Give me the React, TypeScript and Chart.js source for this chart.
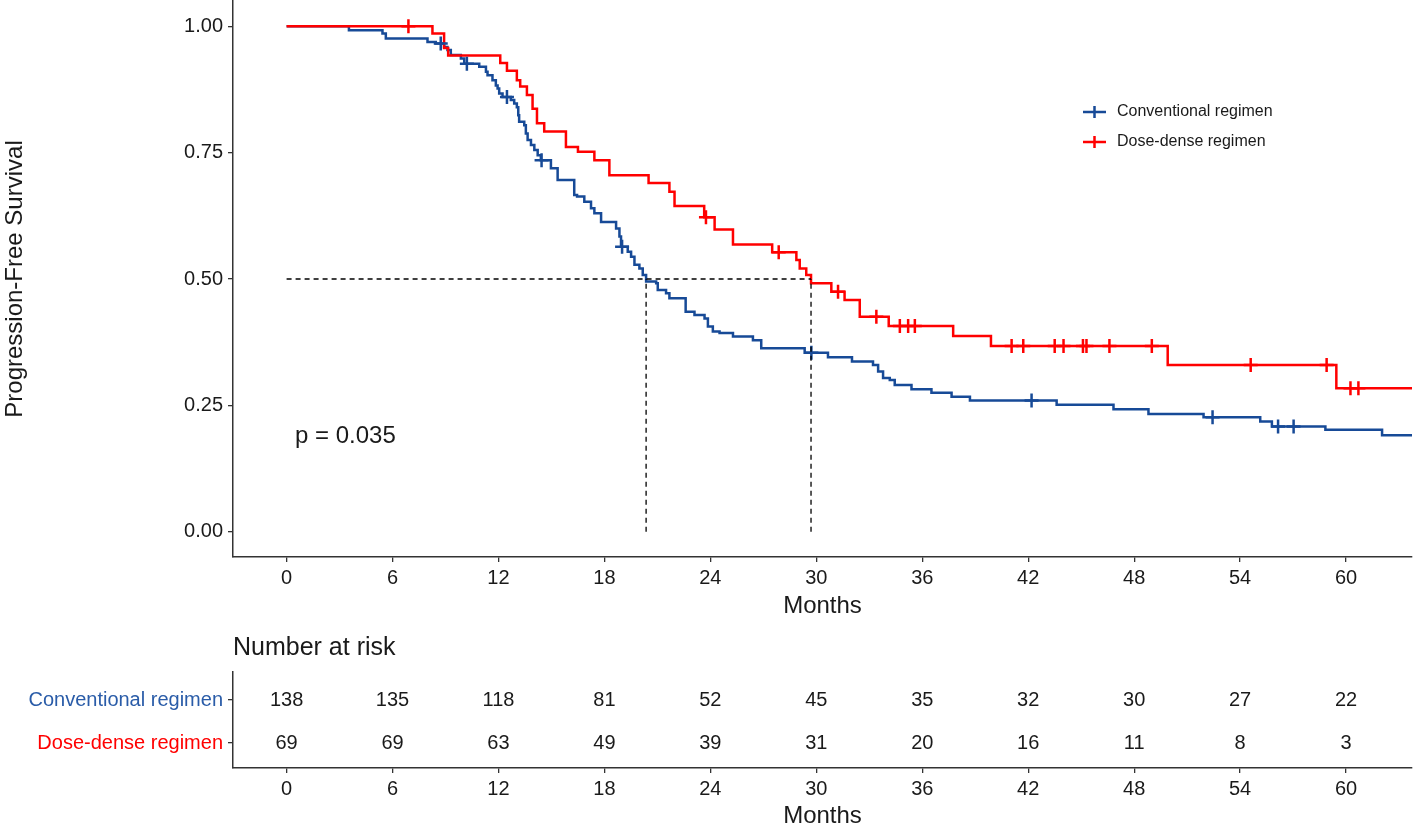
import React, { useEffect, useRef } from 'react';
import { Chart, registerables } from 'chart.js';

Chart.register(...registerables);

const FONT = '"Liberation Sans", Arial, Helvetica, sans-serif';
const BLUE = '#174A97';
const BLUE_LABEL = '#2A5CA8';
const RED = '#FF0000';
const AXIS = '#333333';
const TEXT = '#1a1a1a';

// ---- Data ----
const seriesNames = ['Conventional regimen', 'Dose-dense regimen'];
const monthTicks = [0, 6, 12, 18, 24, 30, 36, 42, 48, 54, 60];
const survTicks = [0, 0.25, 0.5, 0.75, 1];
const pValueLabel = 'p = 0.035';

const convTimes = [0, 3.53, 5.43, 5.62, 7.98, 8.45, 8.92, 9.11, 9.3, 9.87, 10.06, 10.91, 11.29, 11.38, 11.66, 11.85, 11.95, 12.04, 12.23, 12.7, 12.89, 13.04, 13.12, 13.17, 13.46, 13.55, 13.65, 13.84, 14.03, 14.22, 14.4, 14.97, 15.35, 16.29, 16.45, 16.86, 17.24, 17.43, 17.81, 18.66, 18.85, 18.94, 19.32, 19.51, 19.7, 19.98, 20.17, 20.36, 20.93, 21.02, 21.49, 21.68, 22.6, 23.1, 23.67, 23.86, 24.14, 24.52, 25.28, 26.41, 26.88, 29.34, 30.66, 32.02, 33.21, 33.5, 33.78, 34.16, 34.44, 35.39, 36.52, 37.66, 38.7, 43.61, 46.83, 48.81, 51.93, 55.14, 55.8, 58.83, 62.04, 63.74];
const convSurv = [1, 0.992, 0.9855, 0.976, 0.969, 0.966, 0.959, 0.953, 0.943, 0.936, 0.926, 0.92, 0.91, 0.903, 0.893, 0.883, 0.877, 0.867, 0.86, 0.854, 0.847, 0.84, 0.824, 0.811, 0.804, 0.788, 0.775, 0.765, 0.755, 0.745, 0.735, 0.719, 0.696, 0.666, 0.663, 0.653, 0.64, 0.63, 0.613, 0.6, 0.584, 0.564, 0.554, 0.544, 0.528, 0.521, 0.508, 0.495, 0.4915, 0.478, 0.472, 0.462, 0.435, 0.429, 0.422, 0.406, 0.396, 0.393, 0.386, 0.379, 0.363, 0.354, 0.345, 0.337, 0.33, 0.317, 0.304, 0.3, 0.2905, 0.282, 0.275, 0.267, 0.2595, 0.251, 0.2425, 0.233, 0.2267, 0.218, 0.208, 0.2016, 0.191, 0.191];
const convCensorTimes = [8.73, 10.21, 12.48, 14.44, 19.0, 29.72, 42.19, 52.44, 56.15, 57.03];
const convCensorSurv = [0.966, 0.926, 0.86, 0.735, 0.564, 0.354, 0.2595, 0.2267, 0.208, 0.208];

const doseTimes = [0, 8.26, 8.92, 9.15, 12.1, 12.48, 13.04, 13.23, 13.61, 13.93, 14.18, 14.59, 15.82, 16.5, 17.43, 18.28, 20.5, 21.68, 21.97, 23.65, 24.24, 25.28, 27.5, 28.87, 29.06, 29.43, 29.7, 30.85, 31.6, 32.46, 34.1, 37.75, 39.89, 49.9, 59.45, 63.74];
const doseSurv = [1, 0.9855, 0.957, 0.942, 0.9275, 0.912, 0.893, 0.881, 0.864, 0.837, 0.808, 0.792, 0.761, 0.752, 0.735, 0.7055, 0.69, 0.6726, 0.6443, 0.622, 0.598, 0.5685, 0.553, 0.5375, 0.521, 0.508, 0.4915, 0.475, 0.4585, 0.4255, 0.407, 0.387, 0.3676, 0.33, 0.284, 0.284];
const doseCensorTimes = [6.9, 23.75, 27.87, 31.23, 33.4, 34.73, 35.2, 35.58, 41.06, 41.72, 43.5, 44.0, 45.1, 45.3, 46.6, 49.0, 54.6, 58.9, 60.25, 60.7];
const doseCensorSurv = [1, 0.622, 0.553, 0.475, 0.4255, 0.407, 0.407, 0.407, 0.3676, 0.3676, 0.3676, 0.3676, 0.3676, 0.3676, 0.3676, 0.3676, 0.33, 0.33, 0.284, 0.284];

const medianTimes = [20.36, 29.7];
const medianLevel = 0.5;

const riskTimes = [0, 6, 12, 18, 24, 30, 36, 42, 48, 54, 60];
const convRisk = [138, 135, 118, 81, 52, 45, 35, 32, 30, 27, 22];
const doseRisk = [69, 69, 63, 49, 39, 31, 20, 16, 11, 8, 3];
const riskRowValues = [1, 0];
const riskTitle = 'Number at risk';

const pts = (xs: number[], ys: number[]) => xs.map((x, i) => ({ x, y: ys[i] }));

const X_MIN = -3.035;
const X_MAX = 63.735;

function xScale(heightPx: number, titleLineHeight: number) {
  return {
    type: 'linear' as const,
    min: X_MIN,
    max: X_MAX,
    bounds: 'data' as const,
    afterBuildTicks: (s: any) => {
      s.ticks = monthTicks.map((v) => ({ value: v }));
    },
    afterFit: (s: any) => {
      s.height = heightPx;
      s.paddingLeft = 0;
      s.paddingRight = 0;
    },
    ticks: {
      font: { family: FONT, size: 20 },
      color: TEXT,
      padding: 4,
      maxRotation: 0,
      autoSkip: false,
      callback: (v: any) => String(v),
    },
    grid: {
      display: true,
      drawOnChartArea: false,
      drawTicks: true,
      tickLength: 5,
      color: AXIS,
      lineWidth: 1.3,
    },
    border: { display: true, color: AXIS, width: 1.5 },
    title: {
      display: true,
      text: 'Months',
      font: { family: FONT, size: 24, lineHeight: titleLineHeight },
      color: TEXT,
      padding: { top: 0, bottom: 0 },
    },
  };
}

const MainChart: React.FC = () => {
  const ref = useRef<HTMLCanvasElement>(null);
  useEffect(() => {
    if (!ref.current) return;
    const overlay = {
      id: 'overlay',
      afterDraw(chart: any) {
        const { ctx, chartArea } = chart;
        ctx.save();
        // p-value
        ctx.fillStyle = TEXT;
        ctx.font = `24px ${FONT}`;
        ctx.textAlign = 'left';
        ctx.textBaseline = 'middle';
        ctx.fillText(pValueLabel, chartArea.left + 62, 436);
        // legend
        const colors = [BLUE, RED];
        seriesNames.forEach((name, i) => {
          const y = 112 + i * 30;
          const x0 = 1083;
          const x1 = 1106;
          const cx = (x0 + x1) / 2;
          ctx.strokeStyle = colors[i];
          ctx.lineWidth = 2.5;
          ctx.beginPath();
          ctx.moveTo(x0, y);
          ctx.lineTo(x1, y);
          ctx.moveTo(cx, y - 6);
          ctx.lineTo(cx, y + 6);
          ctx.stroke();
          ctx.fillStyle = TEXT;
          ctx.font = `16px ${FONT}`;
          ctx.textAlign = 'left';
          ctx.textBaseline = 'middle';
          ctx.fillText(name, 1117, y);
        });
        ctx.restore();
      },
    };

    const dash = {
      borderColor: '#000',
      borderWidth: 1.3,
      borderDash: [5, 4],
      pointRadius: 0,
      fill: false,
      order: 0,
    };

    const chart = new Chart(ref.current, {
      type: 'line',
      data: {
        datasets: [
          {
            label: seriesNames[0],
            data: pts(convTimes, convSurv),
            stepped: 'before',
            borderColor: BLUE,
            borderWidth: 2.5,
            pointRadius: 0,
            fill: false,
            order: 3,
          } as any,
          {
            label: seriesNames[1],
            data: pts(doseTimes, doseSurv),
            stepped: 'before',
            borderColor: RED,
            borderWidth: 2.5,
            pointRadius: 0,
            fill: false,
            order: 2,
          } as any,
          {
            type: 'scatter',
            label: 'censor-conv',
            data: pts(convCensorTimes, convCensorSurv),
            pointStyle: 'cross',
            pointRadius: 7,
            borderWidth: 2.5,
            borderColor: BLUE,
            backgroundColor: BLUE,
            showLine: false,
            order: 1,
          } as any,
          {
            type: 'scatter',
            label: 'censor-dose',
            data: pts(doseCensorTimes, doseCensorSurv),
            pointStyle: 'cross',
            pointRadius: 7,
            borderWidth: 2.5,
            borderColor: RED,
            backgroundColor: RED,
            showLine: false,
            order: 1,
          } as any,
          {
            ...dash,
            label: 'median-h',
            data: [
              { x: 0, y: medianLevel },
              { x: medianTimes[1], y: medianLevel },
            ],
          } as any,
          ...medianTimes.map(
            (t, i) =>
              ({
                ...dash,
                label: 'median-v' + i,
                data: [
                  { x: t, y: 0 },
                  { x: t, y: medianLevel },
                ],
              } as any)
          ),
        ],
      },
      options: {
        responsive: false,
        animation: false,
        devicePixelRatio: 1,
        parsing: false as any,
        layout: { autoPadding: false, padding: { top: 1, right: 6, left: 0, bottom: 0 } },
        plugins: {
          legend: { display: false },
          tooltip: { enabled: false },
          title: { display: false },
        },
        scales: {
          x: xScale(62, 1.05) as any,
          y: {
            type: 'linear',
            min: -0.05,
            max: 1.05,
            bounds: 'data',
            afterBuildTicks: (s: any) => {
              s.ticks = survTicks.map((v) => ({ value: v }));
            },
            afterFit: (s: any) => {
              s.width = 233;
              s.paddingTop = 0;
              s.paddingBottom = 0;
            },
            ticks: {
              font: { family: FONT, size: 20 },
              color: TEXT,
              padding: 5,
              callback: (v: any) => Number(v).toFixed(2),
            },
            grid: {
              display: true,
              drawOnChartArea: false,
              drawTicks: true,
              tickLength: 5,
              color: AXIS,
              lineWidth: 1.3,
            },
            border: { display: true, color: AXIS, width: 1.5 },
            title: {
              display: true,
              text: 'Progression-Free Survival',
              font: { family: FONT, size: 24, lineHeight: 1.2 },
              color: TEXT,
              padding: { top: 1, bottom: 0 },
            },
          } as any,
        },
      },
      plugins: [overlay],
    });
    return () => chart.destroy();
  }, []);
  return (
    <canvas
      ref={ref}
      width={1418}
      height={619}
      style={{ position: 'absolute', left: 0, top: 0, width: 1418, height: 619 }}
    />
  );
};

const RiskTable: React.FC = () => {
  const ref = useRef<HTMLCanvasElement>(null);
  useEffect(() => {
    if (!ref.current) return;
    const rowColors = [BLUE_LABEL, RED];
    const risks = [convRisk, doseRisk];
    const labelsPlugin = {
      id: 'riskLabels',
      afterDraw(chart: any) {
        const { ctx, chartArea } = chart;
        ctx.save();
        ctx.fillStyle = TEXT;
        ctx.font = `25px ${FONT}`;
        ctx.textAlign = 'left';
        ctx.textBaseline = 'middle';
        ctx.fillText(riskTitle, chartArea.left, chartArea.top - 24);
        ctx.font = `20px ${FONT}`;
        ctx.textAlign = 'center';
        risks.forEach((arr, di) => {
          const meta = chart.getDatasetMeta(di);
          meta.data.forEach((el: any, j: number) => {
            ctx.fillText(String(arr[j]), el.x, el.y);
          });
        });
        ctx.restore();
      },
    };
    const chart = new Chart(ref.current, {
      type: 'scatter',
      data: {
        datasets: risks.map((arr, i) => ({
          label: seriesNames[i],
          data: riskTimes.map((t) => ({ x: t, y: riskRowValues[i] })),
          pointRadius: 0,
          showLine: false,
        })) as any,
      },
      options: {
        responsive: false,
        animation: false,
        devicePixelRatio: 1,
        layout: { autoPadding: false, padding: { top: 52, right: 6, left: 0, bottom: 0 } },
        plugins: {
          legend: { display: false },
          tooltip: { enabled: false },
        },
        scales: {
          x: xScale(58, 0.8) as any,
          y: {
            type: 'linear',
            min: -0.581,
            max: 1.651,
            bounds: 'data',
            afterBuildTicks: (s: any) => {
              s.ticks = [...riskRowValues].sort((a, b) => a - b).map((v) => ({ value: v }));
            },
            afterFit: (s: any) => {
              s.width = 233;
              s.paddingTop = 0;
              s.paddingBottom = 0;
            },
            ticks: {
              font: { family: FONT, size: 20 },
              color: (c: any) => rowColors[riskRowValues.indexOf(c.tick ? c.tick.value : -1)] || TEXT,
              padding: 5,
              callback: (v: any) => seriesNames[riskRowValues.indexOf(Number(v))] ?? '',
            },
            grid: {
              display: true,
              drawOnChartArea: false,
              drawTicks: true,
              tickLength: 5,
              color: AXIS,
              lineWidth: 1.3,
            },
            border: { display: true, color: AXIS, width: 1.5 },
          } as any,
        },
      },
      plugins: [labelsPlugin],
    });
    return () => chart.destroy();
  }, []);
  return (
    <canvas
      ref={ref}
      width={1418}
      height={206}
      style={{ position: 'absolute', left: 0, top: 620, width: 1418, height: 206 }}
    />
  );
};

export default function App() {
  return (
    <div
      style={{
        position: 'absolute',
        left: 0,
        top: 0,
        width: 1418,
        height: 826,
        overflow: 'hidden',
        background: '#ffffff',
      }}
    >
      <MainChart />
      <RiskTable />
    </div>
  );
}
